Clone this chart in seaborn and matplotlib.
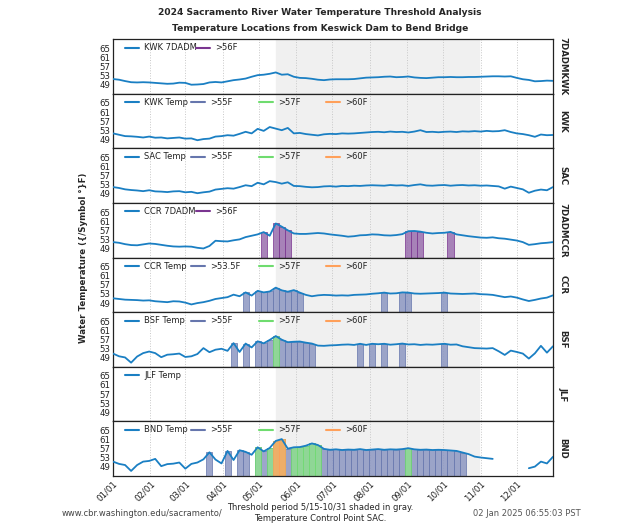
import numpy as np
import pandas as pd
import seaborn as sns
import matplotlib
matplotlib.use('Agg')
import matplotlib.pyplot as plt
import matplotlib.dates as mdates
from matplotlib.lines import Line2D

######################################
### Data (5-day steps)

dates = pd.date_range('2024-01-01', periods=74, freq='5D')

kwk_7dadm = [51.5, 51.2, 50.6, 50.1, 50.0, 50.1, 50.0, 49.8, 49.6, 49.4, 49.5, 49.9, 49.8, 49.0, 49.1, 49.3,
             50.0, 50.2, 50.0, 50.5, 51.0, 51.3, 51.7, 52.5, 53.2, 53.4, 53.8, 54.4, 53.4, 53.6, 52.5, 52.0,
             51.9, 51.6, 51.2, 51.0, 51.3, 51.4, 51.4, 51.4, 51.5, 51.8, 52.1, 52.2, 52.3, 52.5, 52.6, 52.3,
             52.4, 52.6, 52.2, 52.0, 51.9, 52.1, 52.3, 52.3, 52.4, 52.3, 52.3, 52.4, 52.4, 52.5, 52.6, 52.7,
             52.7, 52.6, 52.7, 52.0, 51.4, 51.1, 50.5, 50.6, 50.8, 50.7]
kwk_temp = [51.6, 51.0, 50.4, 50.3, 50.1, 49.8, 50.2, 49.7, 49.8, 49.4, 49.6, 49.8, 49.3, 49.4, 48.6, 49.1,
            49.3, 50.2, 50.4, 50.8, 50.6, 51.4, 52.3, 51.6, 53.6, 52.7, 54.4, 53.7, 53.0, 54.0, 51.6, 51.8,
            51.3, 51.0, 50.7, 51.2, 51.4, 51.3, 51.6, 51.5, 51.6, 51.8, 52.0, 52.2, 52.3, 52.1, 52.4, 52.2,
            52.3, 52.0, 52.4, 53.0, 52.2, 52.3, 52.1, 52.3, 52.4, 52.2, 52.5, 52.4, 52.6, 52.4, 52.7, 52.5,
            52.6, 53.0, 52.2, 51.6, 51.3, 50.8, 50.1, 51.1, 50.8, 50.9]
sac_temp = [52.0, 51.6, 51.0, 50.7, 50.5, 50.2, 50.6, 50.1, 50.0, 49.8, 50.1, 50.2, 49.7, 49.9, 49.3, 49.7,
            50.0, 50.9, 51.2, 51.5, 51.3, 52.0, 52.8, 52.4, 53.9, 53.2, 54.6, 54.2, 53.5, 54.1, 52.5, 52.4,
            52.1, 51.9, 52.0, 52.3, 52.4, 52.2, 52.5, 52.4, 52.6, 52.5, 52.7, 52.8, 52.7, 52.6, 52.9, 52.7,
            52.8, 52.5, 52.9, 53.2, 52.7, 52.6, 52.8, 52.9, 52.6, 52.8, 52.9, 52.7, 52.8, 52.6, 52.7, 52.5,
            52.3, 51.3, 52.2, 51.6, 51.0, 49.5, 50.4, 50.9, 50.6, 52.0]
ccr_7dadm = [51.8, 51.5, 50.9, 50.5, 50.4, 50.8, 51.2, 51.0, 50.6, 50.2, 49.9, 49.8, 49.9, 49.8, 49.3, 49.0,
             50.1, 52.4, 52.2, 52.1, 52.6, 53.0, 54.0, 54.6, 55.2, 56.2, 54.6, 60.0, 58.6, 57.0, 55.6, 55.4,
             55.4, 55.6, 55.8, 55.6, 55.2, 54.9, 54.6, 54.2, 54.4, 54.8, 54.9, 55.2, 55.1, 54.8, 54.7, 54.9,
             55.3, 56.6, 56.7, 56.4, 55.9, 55.6, 55.8, 55.9, 56.3, 55.2, 54.8, 54.4, 54.1, 53.8, 53.7, 53.9,
             53.5, 53.3, 52.9, 52.5, 51.8, 50.6, 50.9, 51.3, 51.5, 51.8]
ccr_temp = [51.1, 50.8, 50.5, 50.4, 50.3, 50.1, 50.2, 49.8, 49.6, 49.4, 49.8, 49.7, 49.2, 48.4, 49.0, 49.4,
            50.0, 50.8, 51.2, 51.6, 52.7, 52.0, 53.7, 52.3, 54.4, 53.7, 54.1, 55.8, 54.6, 54.0, 54.7, 53.6,
            52.6, 52.0, 52.4, 52.6, 52.5, 52.3, 52.4, 52.3, 52.6, 52.7, 52.8, 53.1, 53.3, 53.6, 53.2, 53.3,
            53.7, 53.6, 53.2, 53.1, 53.2, 53.3, 53.4, 53.6, 53.2, 53.1, 53.0, 53.1, 53.2, 52.9, 52.8, 52.6,
            52.1, 51.6, 51.9, 51.4, 50.6, 49.9, 50.4, 51.0, 51.4, 52.4]
bsf_temp = [50.8, 49.6, 49.1, 46.8, 49.5, 51.0, 51.7, 51.0, 49.2, 50.3, 50.5, 50.8, 49.3, 49.6, 50.6, 53.2,
            51.4, 52.5, 52.9, 52.0, 55.4, 51.5, 55.2, 53.5, 56.2, 55.3, 56.8, 58.5, 56.9, 55.8, 56.0, 56.1,
            55.6, 55.2, 54.3, 54.2, 54.4, 54.5, 54.7, 54.8, 54.6, 55.1, 54.6, 55.1, 54.9, 55.1, 54.7, 54.9,
            55.2, 54.8, 54.9, 54.6, 54.8, 54.7, 54.9, 55.1, 54.7, 54.8, 54.0, 53.6, 53.2, 53.1, 53.0, 53.2,
            51.8, 50.2, 52.1, 51.5, 50.8, 48.6, 50.9, 54.2, 51.2, 54.0]
jlf_temp = [np.nan] * 74
bnd_temp = [51.3, 50.3, 49.8, 47.2, 49.8, 51.3, 51.6, 52.5, 49.3, 50.2, 50.4, 50.9, 48.2, 50.3, 50.9, 52.3,
            55.4, 52.2, 50.5, 56.0, 52.0, 56.3, 55.6, 54.3, 57.6, 55.8, 57.3, 60.4, 61.2, 57.0, 57.6, 57.7,
            58.3, 59.3, 58.6, 56.9, 56.5, 56.7, 56.4, 56.6, 56.5, 56.8, 56.4, 56.6, 56.8, 56.5, 56.7, 56.6,
            56.8, 57.2, 56.7, 56.5, 56.6, 56.4, 56.5, 56.4, 56.2, 56.0, 55.3, 54.6, 53.5, 53.1, 52.8, 52.5,
            np.nan, np.nan, np.nan, np.nan, np.nan, 48.4, 49.1, 51.3, 50.5, 53.4]

# panel: (column, series, right label, thresholds)
panels = [
    ('KWK 7DADM', kwk_7dadm, '7DADMKWK', [56]),
    ('KWK Temp', kwk_temp, 'KWK', [55, 57, 60]),
    ('SAC Temp', sac_temp, 'SAC', [55, 57, 60]),
    ('CCR 7DADM', ccr_7dadm, '7DADMCCR', [56]),
    ('CCR Temp', ccr_temp, 'CCR', [53.5, 57, 60]),
    ('BSF Temp', bsf_temp, 'BSF', [55, 57, 60]),
    ('JLF Temp', jlf_temp, 'JLF', []),
    ('BND Temp', bnd_temp, 'BND', [55, 57, 60]),
]

line_col = '#1a7fc3'
# threshold colours: (legend/edge, fill)
thr_cols_temp = [('#6676ad', '#8c97c2'), ('#6fdc6f', '#8ee08e'), ('#ffa05a', '#ffa860')]
thr_cols_7d = [('#7a3590', '#9a6fae')]

ymin, ymax = 45, 69

df = pd.DataFrame({'date': dates})
for name, vals, lab, thr in panels:
    df[name] = vals

######################################
### Plot

sns.set_theme(style='white')
plt.rcParams['font.family'] = ['DejaVu Sans']

fig = plt.figure(figsize=(6.4, 5.3), dpi=100)
axes = fig.subplots(8, 1, sharex=True)
fig.subplots_adjust(left=0.1766, right=0.864, top=0.926, bottom=0.102, hspace=0)

for ax, (name, vals, lab, thr) in zip(axes, panels):
    ax.axvspan(pd.Timestamp('2024-05-15'), pd.Timestamp('2024-10-31'), color='#f0f0f0', zorder=0)
    cols = thr_cols_7d if '7DADM' in name else thr_cols_temp
    for t, (ec, fc) in zip(thr, cols):
        exc = df[df[name] > t]
        ax.bar(exc['date'], exc[name] - ymin, bottom=ymin, width=5, color=fc, alpha=0.85,
               edgecolor=ec, linewidth=0.6, zorder=2)
    # break the line where data are missing
    seg = df[['date', name]].copy()
    seg['seg'] = seg[name].isna().cumsum()
    seg = seg.dropna()
    if len(seg):
        sns.lineplot(data=seg, x='date', y=name, units='seg', estimator=None, ax=ax,
                     color=line_col, lw=1.3, legend=False, zorder=3)
    ax.set_ylim(ymin, ymax)
    ax.set_yticks([49, 53, 57, 61, 65])
    ax.set_ylabel('')
    ax.set_xlabel('')
    ax.grid(axis='x', linestyle=':', color='#c8c8c8', lw=0.7)
    ax.tick_params(axis='both', direction='in', length=3, labelsize=6.2, pad=2, colors='#222222')
    for sp in ax.spines.values():
        sp.set_color('#222222')
        sp.set_linewidth(0.9)
    ax.text(1.012, 0.5, lab, transform=ax.transAxes, rotation=-90, ha='left', va='center',
            fontsize=6.2, fontweight='bold')

    # legend entries, gnuplot-like fixed columns
    names = [name] + ['>%gF' % t for t in thr]
    lcols = [line_col] + [c[0] for c in cols[:len(thr)]]
    xs = [0.0266, 0.189] if '7DADM' in name else [0.0266, 0.177, 0.332, 0.484]
    for x0, nm, c in zip(xs, names, lcols):
        ax.add_line(Line2D([x0, x0 + 0.032], [0.845, 0.845], transform=ax.transAxes, color=c,
                           lw=1.5, zorder=5))
        ax.text(x0 + 0.044, 0.845, nm, transform=ax.transAxes, ha='left', va='center',
                fontsize=6, color='#222222', zorder=5)

axes[-1].set_xlim(pd.Timestamp('2024-01-01'), pd.Timestamp('2024-12-31'))
axes[-1].xaxis.set_major_locator(mdates.MonthLocator())
axes[-1].xaxis.set_major_formatter(mdates.DateFormatter('%m/%d'))
plt.setp(axes[-1].get_xticklabels(), rotation=45, ha='right', rotation_mode='anchor')

fig.text(0.5, 0.977, '2024 Sacramento River Water Temperature Threshold Analysis', ha='center',
         va='center', fontsize=6.6, fontweight='bold')
fig.text(0.5, 0.946, 'Temperature Locations from Keswick Dam to Bend Bridge', ha='center',
         va='center', fontsize=6.6, fontweight='bold')
fig.text(0.13, 0.514, 'Water Temperature ({/Symbol \u00b0}F)', rotation=90, ha='center', va='center',
         fontsize=6.2, fontweight='bold')

fig.text(0.097, 0.032, 'www.cbr.washington.edu/sacramento/', ha='left', va='center', fontsize=6,
         color='#444444')
fig.text(0.5, 0.043, 'Threshold period 5/15-10/31 shaded in gray.', ha='center', va='center', fontsize=6)
fig.text(0.5, 0.021, 'Temperature Control Point SAC.', ha='center', va='center', fontsize=6)
fig.text(0.739, 0.032, '02 Jan 2025 06:55:03 PST', ha='left', va='center', fontsize=6, color='#555555')

fig.savefig('out.png', dpi=100)
